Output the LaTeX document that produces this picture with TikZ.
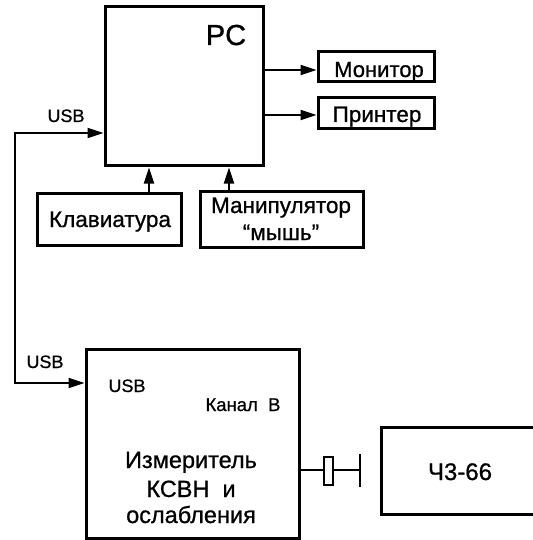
\documentclass[tikz,border=0pt]{standalone}
\usepackage{fontspec}
\setmainfont[FakeBold=0.8]{Liberation Sans}
\usetikzlibrary{arrows.meta}
\newcommand\fsz[1]{\fontsize{#1}{#1}\selectfont}
\begin{document}
\begin{tikzpicture}[x=1pt,y=-1pt,
  box/.style={draw=black, line width=3pt, inner sep=0pt, fill=white},
  conn/.style={draw=black, line width=2pt},
  arr/.style={conn, -{Triangle[length=16pt,width=10pt]}},
  barr/.style={conn, {Triangle[length=16pt,width=10pt]}-{Triangle[length=16pt,width=10pt]}},
  txt/.style={anchor=base, inner sep=0pt}]
\useasboundingbox (0,0) rectangle (532,540);
% boxes
\node[box, minimum width=158pt, minimum height=159pt] (pc) at (184,86.5) {};
\node[box, minimum width=116pt, minimum height=30pt] (mon) at (376,67) {};
\node[box, minimum width=116pt, minimum height=31pt] (prn) at (376,113.5) {};
\node[box, minimum width=144pt, minimum height=52pt] (kb) at (109.5,219.5) {};
\node[box, minimum width=163pt, minimum height=56pt] (mouse) at (281.5,219) {};
\node[box, minimum width=213pt, minimum height=189pt] (meter) at (192.5,443.5) {};
\node[inner sep=0pt, minimum width=180pt, minimum height=86pt] (ch) at (472,471) {};
\draw[line width=3pt] (ch.north east) -- (ch.north west) -- (ch.south west) -- (ch.south east);
% texts
\node[txt] (tpc) at (226,45) {\fsz{29}PC};
\node[txt] (tmon) at (379,77) {\fsz{22}Монитор};
\node[txt] (tprn) at (377,122) {\fsz{22.5}Принтер};
\node[txt] (tkb) at (110,227) {\fsz{22.5}Клавиатура};
\node[txt] (tm1) at (281,213) {\fsz{22.5}Манипулятор};
\node[txt] (tm2) at (281,240) {\fsz{22.5}“мышь”};
\node[txt] (tusb1) at (66,122) {\fsz{18}USB};
\node[txt] (tusb2) at (45,368) {\fsz{18}USB};
\node[txt] (tusb3) at (127,392) {\fsz{18}USB};
\node[txt] (tkan) at (243,411) {\fsz{18.5}Канал\ \ B};
\node[txt] (tiz1) at (191,468) {\fsz{23.5}Измеритель};
\node[txt] (tiz2) at (191,497) {\fsz{23.5}КСВН\ \ и};
\node[txt] (tiz3) at (191,523) {\fsz{23.5}ослабления};
\node[txt] (tch) at (460,480) {\fsz{24}Ч3-66};
% helper coordinates
\coordinate (ya) at (0,70);
\coordinate (yb) at (0,115);
\coordinate (ka) at (149,0);
\coordinate (ma) at (229,0);
\coordinate (ua) at (0,133);
\coordinate (ub) at (0,383);
\coordinate (ux) at (15,0);
\coordinate (yc) at (0,470);
\coordinate (bt) at (360,454);
\coordinate (bb) at (360,487);
% connectors
\draw[arr] (pc.east |- ya) -- (mon.west |- ya);
\draw[arr] (pc.east |- yb) -- (prn.west |- yb);
\draw[arr] (kb.north -| ka) -- (pc.south -| ka);
\draw[arr] (mouse.north -| ma) -- (pc.south -| ma);
\draw[barr] (pc.west |- ua) -- (ux |- ua) -- (ux |- ub) -- (meter.west |- ub);
\draw[conn] (meter.east |- yc) -- (bt |- yc);
\draw[conn] (bt) -- (bb);
\node[draw=black, line width=1.8pt, fill=white, minimum width=9pt, minimum height=28pt, inner sep=0pt] (plug) at (328.5,471) {};
\end{tikzpicture}
\end{document}
